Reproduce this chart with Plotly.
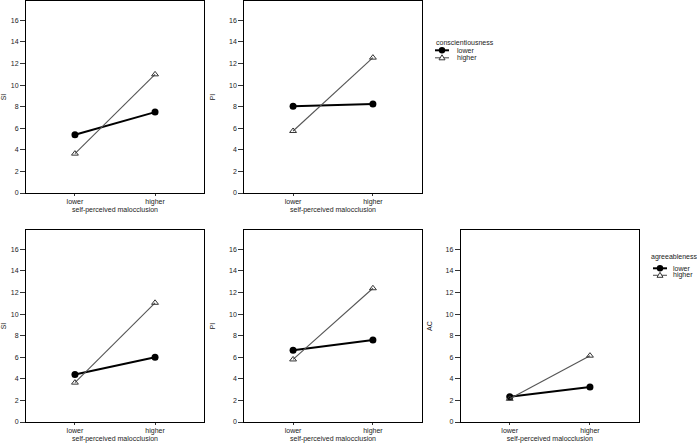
import plotly.graph_objects as go

# categories on the x axis
groups = ["lower", "higher"]

# top row: conscientiousness
si_consc_lower = [5.4, 7.5]
si_consc_higher = [3.65, 11.0]
pi_consc_lower = [8.05, 8.25]
pi_consc_higher = [5.75, 12.55]

# bottom row: agreeableness
si_agree_lower = [4.4, 6.0]
si_agree_higher = [3.65, 11.05]
pi_agree_lower = [6.65, 7.6]
pi_agree_higher = [5.8, 12.4]
ac_agree_lower = [2.35, 3.25]
ac_agree_higher = [2.15, 6.15]

y_ticks = [0, 2, 4, 6, 8, 10, 12, 14, 16]

W, H = 697, 444
font = "Liberation Sans, Arial, sans-serif"
txt = "#222222"


def px_x(a, b):
    return [a / W, b / W]


def px_y(top, bottom):
    return [1 - bottom / H, 1 - top / H]


panels = [
    # (axis id, x domain, y domain, y title, lower series, higher series)
    ("", px_x(26, 204), px_y(1, 193), "SI", si_consc_lower, si_consc_higher),
    ("2", px_x(244.3, 421.7), px_y(1, 193), "PI", pi_consc_lower, pi_consc_higher),
    ("3", px_x(26, 204), px_y(230, 422), "SI", si_agree_lower, si_agree_higher),
    ("4", px_x(244.3, 421.7), px_y(230, 422), "PI", pi_agree_lower, pi_agree_higher),
    ("5", px_x(460.7, 639), px_y(230, 422), "AC", ac_agree_lower, ac_agree_higher),
]

fig = go.Figure()

for ax, xd, yd, ytitle, low, high in panels:
    xref = "x" + ax
    yref = "y" + ax
    fig.add_trace(go.Scatter(
        x=[0, 1], y=low, xaxis=xref, yaxis=yref,
        mode="lines+markers", name="lower", showlegend=False,
        line=dict(color="black", width=2),
        marker=dict(symbol="circle", size=7, color="black"),
    ))
    fig.add_trace(go.Scatter(
        x=[0, 1], y=high, xaxis=xref, yaxis=yref,
        mode="lines+markers", name="higher", showlegend=False,
        line=dict(color="#555555", width=1.1),
        marker=dict(symbol="triangle-up-open", size=6, color="#333333",
                    line=dict(width=1)),
    ))
    axis_x = dict(
        domain=xd, anchor=yref, range=[-0.611, 1.611],
        tickvals=[0, 1], ticktext=groups, ticks="outside", ticklen=2,
        tickcolor="#333",
        showline=True, mirror=True, linecolor="black", linewidth=1,
        showgrid=False, zeroline=False, automargin=False,
        tickfont=dict(size=7, color=txt),
        title=dict(text="self-perceived malocclusion", standoff=1,
                   font=dict(size=7, color=txt)),
    )
    axis_y = dict(
        domain=yd, anchor=xref, range=[0, 17.8],
        tickvals=y_ticks, ticks="outside", ticklen=5, tickcolor="#333",
        showline=True, mirror=True, linecolor="black", linewidth=1,
        showgrid=False, zeroline=False, automargin=False,
        tickfont=dict(size=7, color=txt),
        title=dict(text=ytitle, standoff=12, font=dict(size=7, color=txt)),
    )
    fig.update_layout(**{"xaxis" + ax: axis_x, "yaxis" + ax: axis_y})


# compact SPSS-style legends, drawn in paper space
def add_legend(title, x_title, y_title, x_sym, x_text, y_lower, y_higher):
    def px(x, y):
        return x / W, 1 - y / H

    tx, ty = px(x_title, y_title)
    fig.add_annotation(x=tx, y=ty, xref="paper", yref="paper", text=title,
                       showarrow=False, xanchor="left", yanchor="middle",
                       font=dict(size=7, color=txt))
    for lab, yy in (("lower", y_lower), ("higher", y_higher)):
        lx, ly = px(x_text, yy)
        fig.add_annotation(x=lx, y=ly, xref="paper", yref="paper", text=lab,
                           showarrow=False, xanchor="left", yanchor="middle",
                           font=dict(size=7, color=txt))
    # lower: thick line with filled circle
    x0, y0 = px(x_sym - 7, y_lower)
    x1, _ = px(x_sym + 7, y_lower)
    fig.add_shape(type="line", xref="paper", yref="paper", x0=x0, x1=x1,
                  y0=y0, y1=y0, line=dict(color="black", width=2))
    cx0, cy0 = px(x_sym - 3.2, y_lower - 3.2)
    cx1, cy1 = px(x_sym + 3.2, y_lower + 3.2)
    fig.add_shape(type="circle", xref="paper", yref="paper", x0=cx0, x1=cx1,
                  y0=cy1, y1=cy0, fillcolor="black", line=dict(width=0))
    # higher: thin line with open triangle
    x0, y0 = px(x_sym - 7, y_higher)
    x1, _ = px(x_sym + 7, y_higher)
    fig.add_shape(type="line", xref="paper", yref="paper", x0=x0, x1=x1,
                  y0=y0, y1=y0, line=dict(color="#555555", width=1.1))
    a = px(x_sym - 3, y_higher + 2)
    b = px(x_sym + 3, y_higher + 2)
    c = px(x_sym, y_higher - 3)
    path = "M {} {} L {} {} L {} {} Z".format(a[0], a[1], b[0], b[1], c[0], c[1])
    fig.add_shape(type="path", xref="paper", yref="paper", path=path,
                  fillcolor="white", line=dict(color="#333333", width=1))


add_legend("conscientiousness", 434, 42.7, 442, 455, 50.3, 57.8)
add_legend("agreeableness", 649, 257.3, 660, 671, 268.3, 275.3)

fig.update_layout(
    width=W, height=H,
    margin=dict(l=0, r=0, t=0, b=0),
    paper_bgcolor="white", plot_bgcolor="white",
    font=dict(family=font, size=7, color=txt),
    showlegend=False,
)

# drop the browser's default 8px body margin so the figure sits at (0, 0)
fig.write_html("out.html", config={"displayModeBar": False},
               post_script="document.body.style.margin = '0';")
